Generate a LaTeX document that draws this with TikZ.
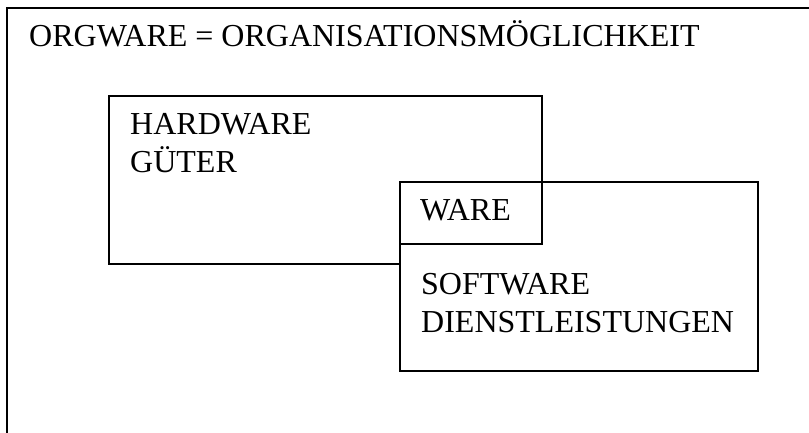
\documentclass[tikz,border=0pt]{standalone}
\usepackage{fontspec}
\setmainfont{Liberation Serif}
\begin{document}
\begin{tikzpicture}[x=1pt,y=-1pt,
  frame/.style={draw=black,line width=1.8pt,fill=white,inner sep=0pt,anchor=north west},
  label/.style={anchor=base west,inner sep=0pt,align=left,
    font=\fontsize{32}{38}\selectfont}]
\useasboundingbox[fill=white] (0,0) rectangle (809,433);
% outer frame, open to the right and bottom
\coordinate (fb) at (7,440);
\coordinate (fr) at (815,8);
\draw[line width=1.8pt] (fb) |- (fr);
\node[label] (title) at (29,47) {ORGWARE = ORGANISATIONSMÖGLICHKEIT};
% hardware box
\node[frame,minimum width=433pt,minimum height=168pt] (hw) at (108,95) {};
% the base anchor of a two-line label sits on its last line
\node[label] (hwtxt) at (130,172) {HARDWARE\\GÜTER};
% software box, on top of the hardware box
\node[frame,minimum width=358pt,minimum height=189pt] (sw) at (399,181) {};
% common part
\node[frame,minimum width=142pt,minimum height=62pt] (ware) at (399,181) {};
\node[label] (waretxt) at (420,221) {WARE};
\node[label] (swtxt) at (421,332) {SOFTWARE\\DIENSTLEISTUNGEN};
\end{tikzpicture}
\end{document}
